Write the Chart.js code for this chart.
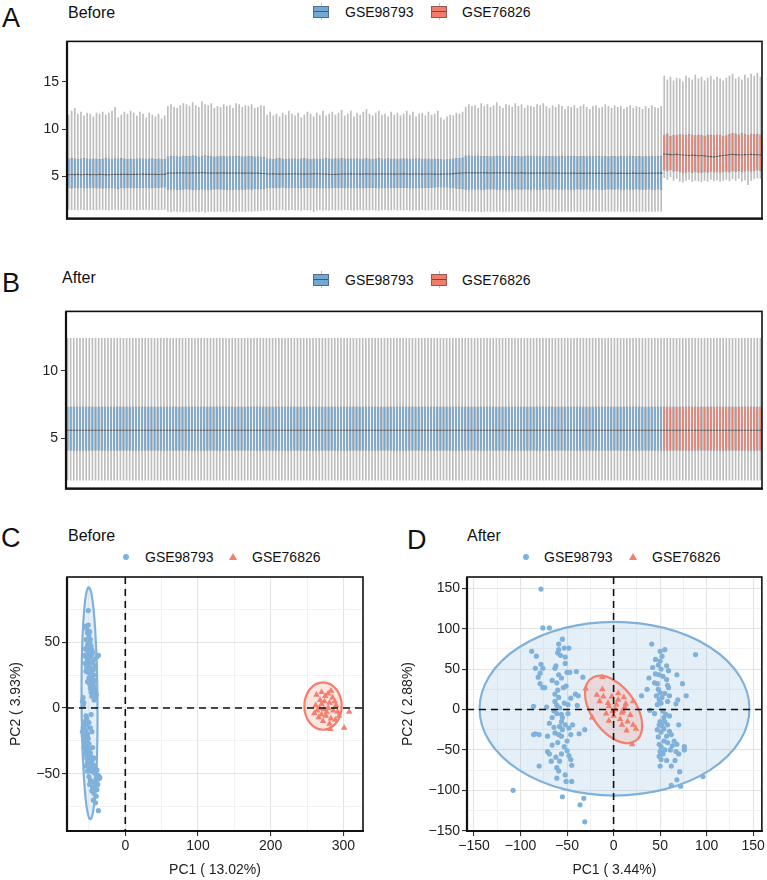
<!DOCTYPE html>
<html>
<head>
<meta charset="utf-8">
<script src="https://cdn.jsdelivr.net/npm/chart.js@4.4.0/dist/chart.umd.min.js"></script>
<style>
  body { margin: 0; background: #fff; width: 767px; height: 880px; position: relative; overflow: hidden;
         font-family: "Liberation Sans", Arial, sans-serif; color: #111; }
  .abs { position: absolute; white-space: nowrap; }
  .letter { font-size: 27px; line-height: 27px; }
  .title { font-size: 16px; line-height: 16px; }
  .leg { font-size: 14px; line-height: 14px; }
  canvas { position: absolute; }
  .bkey { width: 16px; height: 17px; }
  .bkey i { position: absolute; display: block; }
  .bkey .wh { left: 7.5px; top: 0; width: 1px; height: 17px; background: #c0c0c0; }
  .bkey .bx { left: 0; top: 3px; width: 14px; height: 10px; border: 1px solid rgba(70,70,70,0.6); }
  .bkey .md { left: 1px; top: 8px; width: 14px; height: 1px; background: #555; }
  .dot { width: 6px; height: 6px; border-radius: 50%; background: #7FB1DA; }
  .tri { width: 0; height: 0; border-left: 4px solid transparent; border-right: 4px solid transparent; border-bottom: 7px solid #F37F6E; }
</style>
</head>
<body>

<div class="abs letter" style="left:2px;top:5px">A</div>
<div class="abs title" style="left:68px;top:5px">Before</div>
<div class="abs bkey" style="left:313px;top:3px"><i class="wh"></i><i class="bx" style="background:#72A8D4"></i><i class="md"></i></div>
<div class="abs leg" style="left:345px;top:5px">GSE98793</div>
<div class="abs bkey" style="left:431px;top:3px"><i class="wh"></i><i class="bx" style="background:#F27C6A"></i><i class="md"></i></div>
<div class="abs leg" style="left:462px;top:5px">GSE76826</div>
<canvas id="boxBefore" width="767" height="200" style="left:0;top:30px"></canvas>

<div class="abs letter" style="left:2px;top:270px">B</div>
<div class="abs title" style="left:62px;top:270px">After</div>
<div class="abs bkey" style="left:313px;top:271px"><i class="wh"></i><i class="bx" style="background:#72A8D4"></i><i class="md"></i></div>
<div class="abs leg" style="left:345px;top:273px">GSE98793</div>
<div class="abs bkey" style="left:431px;top:271px"><i class="wh"></i><i class="bx" style="background:#F27C6A"></i><i class="md"></i></div>
<div class="abs leg" style="left:462px;top:273px">GSE76826</div>
<canvas id="boxAfter" width="767" height="200" style="left:0;top:300px"></canvas>

<div class="abs letter" style="left:1px;top:525px">C</div>
<div class="abs title" style="left:68px;top:528px">Before</div>
<div class="abs dot" style="left:123px;top:554px"></div>
<div class="abs leg" style="left:145px;top:550px">GSE98793</div>
<div class="abs tri" style="left:229px;top:553px"></div>
<div class="abs leg" style="left:252px;top:550px">GSE76826</div>
<canvas id="pcaBefore" width="380" height="320" style="left:0;top:560px"></canvas>

<div class="abs letter" style="left:407px;top:527px">D</div>
<div class="abs title" style="left:467px;top:528px">After</div>
<div class="abs dot" style="left:523px;top:554px"></div>
<div class="abs leg" style="left:544px;top:550px">GSE98793</div>
<div class="abs tri" style="left:629px;top:553px"></div>
<div class="abs leg" style="left:652px;top:550px">GSE76826</div>
<canvas id="pcaAfter" width="387" height="320" style="left:380px;top:560px"></canvas>

<script>
// ---- samples ----
const sampleGroups = ['GSE98793', 'GSE76826'];
const groupSizes = [192, 32];

// ---- A: expression boxplots before batch correction (one value per sample) ----
const hiBefore = [
  11.5, 11.9, 12.2, 11.6, 11.8, 11.4, 11.7, 11.6,
  11.3, 11.7, 11.6, 11.8, 11.5, 11.7, 11.9, 12.3,
  11.2, 11.5, 11.8, 11.6, 11.9, 11.7, 11.4, 11.8,
  11.6, 11.2, 11.7, 11.5, 11.3, 11.6, 11.1, 11.4,
  12.4, 12.6, 12.3, 12.2, 12.5, 12.7, 12.6, 12.4,
  12.8, 12.5, 12.3, 12.9, 12.6, 12.5, 12.7, 12.2,
  12.4, 12.3, 12.6, 12.4, 12.5, 12.2, 12.7, 12.6,
  12.3, 12.5, 12.4, 12.6, 12.2, 12.3, 12.5, 12.4,
  11.5, 11.8, 11.4, 11.6, 11.3, 11.7, 11.5, 11.9,
  11.6, 11.4, 11.7, 11.2, 11.5, 11.8, 11.6, 11.3,
  11.7, 11.5, 11.9, 11.4, 11.6, 11.8, 11.5, 11.7,
  12.0, 11.4, 11.6, 11.9, 11.3, 11.7, 11.5, 11.8,
  12.1, 11.6, 11.4, 11.7, 11.9, 11.5, 11.6, 11.3,
  11.8, 11.5, 11.7, 11.4, 11.6, 11.9, 11.5, 11.8,
  11.3, 11.6, 11.7, 11.4, 11.8, 11.5, 11.6, 11.9,
  11.2, 11.0, 11.3, 11.5, 11.4, 11.7, 11.6, 11.8,
  12.3, 12.6, 12.4, 12.5, 12.2, 12.7, 12.4, 12.6,
  12.3, 12.5, 12.8, 12.4, 12.2, 12.6, 12.5, 12.3,
  12.7, 12.4, 12.6, 12.2, 12.5, 12.4, 12.3, 12.6,
  12.5, 12.7, 12.4, 12.2, 12.5, 12.3, 12.6, 12.4,
  12.1, 12.4, 12.3, 12.5, 12.2, 12.4, 12.6, 12.3,
  12.1, 12.4, 12.5, 12.2, 12.3, 12.6, 12.4, 12.2,
  12.5, 12.3, 12.4, 12.1, 12.3, 12.5, 12.2, 12.4,
  12.3, 12.1, 12.4, 12.2, 12.5, 12.3, 12.2, 12.4,
  15.6, 15.2, 15.5, 15.1, 15.4, 15.3, 15.0, 15.6,
  15.4, 15.2, 15.7, 15.3, 15.5, 15.1, 15.4, 15.6,
  15.2, 15.5, 15.3, 15.1, 15.4, 15.6, 15.8, 15.3,
  15.5, 15.2, 15.7, 15.4, 15.8, 15.6, 15.9, 15.5
];
const q3Before = [
  6.90, 6.95, 6.90, 6.86, 6.92, 6.95, 6.90, 6.88,
  6.92, 6.90, 6.85, 6.90, 6.96, 6.90, 6.88, 6.93,
  6.90, 6.95, 6.91, 6.88, 6.90, 6.86, 6.92, 6.93,
  6.90, 6.88, 6.91, 6.93, 6.85, 6.90, 6.88, 6.86,
  7.12, 7.16, 7.20, 7.15, 7.12, 7.22, 7.16, 7.20,
  7.26, 7.16, 7.12, 7.20, 7.24, 7.16, 7.20, 7.12,
  7.15, 7.20, 7.16, 7.12, 7.20, 7.15, 7.22, 7.16,
  7.12, 7.15, 7.20, 7.16, 7.12, 7.15, 7.10, 7.06,
  6.92, 6.90, 6.88, 6.93, 6.95, 6.90, 6.86, 6.92,
  6.90, 6.94, 6.88, 6.90, 6.95, 6.91, 6.88, 6.92,
  6.90, 6.86, 6.92, 6.95, 6.90, 6.88, 6.93, 6.90,
  6.95, 6.90, 6.87, 6.92, 6.90, 6.94, 6.88, 6.91,
  6.93, 6.90, 6.86, 6.92, 6.95, 6.90, 6.88, 6.93,
  6.90, 6.92, 6.88, 6.90, 6.94, 6.90, 6.87, 6.92,
  6.90, 6.93, 6.88, 6.90, 6.92, 6.88, 6.90, 6.85,
  6.82, 6.80, 6.84, 6.88, 6.90, 6.95, 7.00, 7.05,
  7.22, 7.26, 7.20, 7.18, 7.22, 7.20, 7.16, 7.20,
  7.15, 7.18, 7.22, 7.16, 7.20, 7.15, 7.18, 7.20,
  7.16, 7.20, 7.15, 7.18, 7.22, 7.16, 7.15, 7.20,
  7.18, 7.15, 7.20, 7.16, 7.18, 7.15, 7.20, 7.16,
  7.15, 7.18, 7.16, 7.20, 7.15, 7.18, 7.16, 7.15,
  7.18, 7.15, 7.20, 7.16, 7.15, 7.18, 7.15, 7.16,
  7.18, 7.15, 7.16, 7.20, 7.15, 7.16, 7.18, 7.15,
  7.16, 7.15, 7.18, 7.15, 7.16, 7.15, 7.18, 7.16,
  9.45, 9.55, 9.30, 9.40, 9.35, 9.50, 9.45, 9.40,
  9.50, 9.45, 9.35, 9.45, 9.40, 9.30, 9.45, 9.40,
  9.35, 9.45, 9.40, 9.30, 9.35, 9.50, 9.60, 9.55,
  9.45, 9.60, 9.50, 9.40, 9.55, 9.50, 9.55, 9.45
];
const medBefore = [
  5.20, 5.22, 5.21, 5.23, 5.20, 5.22, 5.24, 5.21,
  5.22, 5.20, 5.23, 5.22, 5.21, 5.20, 5.22, 5.24,
  5.22, 5.23, 5.25, 5.24, 5.22, 5.23, 5.24, 5.25,
  5.26, 5.24, 5.23, 5.25, 5.24, 5.22, 5.25, 5.24,
  5.36, 5.38, 5.37, 5.39, 5.38, 5.40, 5.38, 5.37,
  5.39, 5.38, 5.40, 5.42, 5.39, 5.38, 5.37, 5.38,
  5.37, 5.38, 5.39, 5.37, 5.36, 5.38, 5.37, 5.38,
  5.36, 5.37, 5.38, 5.36, 5.35, 5.36, 5.34, 5.33,
  5.28, 5.27, 5.29, 5.28, 5.26, 5.28, 5.27, 5.29,
  5.28, 5.30, 5.27, 5.28, 5.26, 5.27, 5.28, 5.29,
  5.30, 5.28, 5.27, 5.26, 5.25, 5.22, 5.23, 5.25,
  5.27, 5.28, 5.27, 5.29, 5.28, 5.27, 5.26, 5.28,
  5.29, 5.27, 5.28, 5.26, 5.27, 5.29, 5.28, 5.27,
  5.28, 5.26, 5.27, 5.28, 5.29, 5.27, 5.26, 5.28,
  5.27, 5.28, 5.26, 5.27, 5.28, 5.27, 5.26, 5.25,
  5.26, 5.27, 5.28, 5.29, 5.31, 5.34, 5.36, 5.38,
  5.40, 5.41, 5.40, 5.39, 5.40, 5.41, 5.39, 5.40,
  5.38, 5.40, 5.41, 5.39, 5.38, 5.40, 5.39, 5.38,
  5.37, 5.38, 5.39, 5.37, 5.38, 5.36, 5.37, 5.38,
  5.36, 5.37, 5.36, 5.38, 5.37, 5.36, 5.37, 5.35,
  5.36, 5.35, 5.37, 5.36, 5.35, 5.36, 5.34, 5.35,
  5.36, 5.35, 5.34, 5.36, 5.35, 5.34, 5.35, 5.36,
  5.35, 5.34, 5.36, 5.35, 5.34, 5.35, 5.36, 5.34,
  5.35, 5.36, 5.34, 5.35, 5.36, 5.35, 5.36, 5.37,
  7.38, 7.35, 7.32, 7.30, 7.34, 7.30, 7.28, 7.25,
  7.22, 7.26, 7.24, 7.20, 7.22, 7.18, 7.15, 7.10,
  7.08, 7.12, 7.18, 7.22, 7.26, 7.30, 7.34, 7.32,
  7.30, 7.28, 7.32, 7.30, 7.34, 7.32, 7.30, 7.28
];
const q1Before = [
  3.78, 3.72, 3.80, 3.75, 3.82, 3.74, 3.78, 3.76,
  3.80, 3.75, 3.78, 3.72, 3.79, 3.76, 3.80, 3.74,
  3.70, 3.78, 3.75, 3.80, 3.77, 3.74, 3.79, 3.76,
  3.80, 3.82, 3.78, 3.75, 3.80, 3.78, 3.82, 3.85,
  3.62, 3.60, 3.64, 3.58, 3.62, 3.60, 3.65, 3.62,
  3.58, 3.60, 3.62, 3.64, 3.60, 3.55, 3.62, 3.60,
  3.64, 3.60, 3.62, 3.58, 3.62, 3.60, 3.64, 3.62,
  3.60, 3.62, 3.64, 3.62, 3.66, 3.64, 3.68, 3.70,
  3.78, 3.76, 3.80, 3.75, 3.78, 3.82, 3.76, 3.78,
  3.80, 3.76, 3.78, 3.74, 3.80, 3.77, 3.79, 3.76,
  3.78, 3.80, 3.76, 3.78, 3.75, 3.79, 3.80, 3.76,
  3.78, 3.74, 3.80, 3.77, 3.76, 3.80, 3.78, 3.75,
  3.79, 3.76, 3.80, 3.78, 3.74, 3.78, 3.80, 3.76,
  3.78, 3.80, 3.76, 3.79, 3.77, 3.80, 3.78, 3.76,
  3.80, 3.78, 3.76, 3.79, 3.78, 3.80, 3.82, 3.84,
  3.85, 3.86, 3.84, 3.80, 3.76, 3.72, 3.68, 3.65,
  3.62, 3.60, 3.64, 3.61, 3.63, 3.60, 3.62, 3.64,
  3.61, 3.63, 3.60, 3.62, 3.64, 3.61, 3.62, 3.60,
  3.63, 3.61, 3.62, 3.64, 3.60, 3.62, 3.63, 3.61,
  3.62, 3.60, 3.63, 3.62, 3.61, 3.64, 3.62, 3.60,
  3.63, 3.61, 3.62, 3.60, 3.64, 3.62, 3.61, 3.63,
  3.60, 3.62, 3.64, 3.61, 3.62, 3.60, 3.63, 3.62,
  3.61, 3.63, 3.60, 3.62, 3.64, 3.61, 3.62, 3.63,
  3.60, 3.62, 3.61, 3.63, 3.62, 3.60, 3.64, 3.62,
  5.65, 5.55, 5.70, 5.50, 5.60, 5.45, 5.35, 5.40,
  5.50, 5.38, 5.45, 5.40, 5.35, 5.45, 5.40, 5.50,
  5.42, 5.48, 5.40, 5.45, 5.50, 5.42, 5.55, 5.48,
  5.60, 5.45, 5.55, 5.62, 5.50, 5.58, 5.65, 5.60
];
const loBefore = [
  1.55, 1.50, 1.52, 1.48, 1.55, 1.50, 1.45, 1.52,
  1.50, 1.48, 1.55, 1.50, 1.52, 1.46, 1.50, 1.54,
  1.48, 1.52, 1.50, 1.55, 1.48, 1.50, 1.45, 1.52,
  1.50, 1.54, 1.48, 1.50, 1.52, 1.48, 1.50, 1.55,
  1.35, 1.30, 1.38, 1.32, 1.35, 1.28, 1.34, 1.30,
  1.36, 1.32, 1.30, 1.35, 1.25, 1.32, 1.36, 1.30,
  1.34, 1.30, 1.35, 1.32, 1.38, 1.30, 1.34, 1.36,
  1.32, 1.30, 1.35, 1.33, 1.38, 1.35, 1.40, 1.42,
  1.48, 1.45, 1.50, 1.46, 1.48, 1.52, 1.44, 1.48,
  1.50, 1.46, 1.48, 1.42, 1.50, 1.46, 1.48, 1.30,
  1.46, 1.50, 1.45, 1.48, 1.44, 1.50, 1.46, 1.48,
  1.45, 1.50, 1.48, 1.46, 1.44, 1.48, 1.50, 1.46,
  1.48, 1.45, 1.50, 1.47, 1.44, 1.48, 1.50, 1.46,
  1.48, 1.50, 1.45, 1.48, 1.46, 1.50, 1.47, 1.45,
  1.48, 1.46, 1.50, 1.47, 1.48, 1.45, 1.50, 1.52,
  1.55, 1.52, 1.50, 1.46, 1.42, 1.40, 1.38, 1.36,
  1.35, 1.32, 1.36, 1.33, 1.35, 1.30, 1.34, 1.36,
  1.32, 1.35, 1.33, 1.36, 1.30, 1.34, 1.35, 1.32,
  1.36, 1.33, 1.35, 1.32, 1.34, 1.36, 1.30, 1.35,
  1.33, 1.36, 1.32, 1.35, 1.34, 1.30, 1.36, 1.33,
  1.35, 1.32, 1.34, 1.36, 1.33, 1.35, 1.30, 1.34,
  1.36, 1.32, 1.35, 1.33, 1.34, 1.36, 1.32, 1.35,
  1.33, 1.36, 1.34, 1.32, 1.35, 1.33, 1.36, 1.34,
  1.32, 1.35, 1.33, 1.36, 1.34, 1.32, 1.35, 1.34,
  4.90, 4.70, 5.00, 4.60, 4.80, 4.50, 4.40, 4.60,
  4.70, 4.50, 4.60, 4.55, 4.45, 4.60, 4.50, 4.70,
  4.55, 4.65, 4.50, 4.60, 4.70, 4.55, 4.75, 4.60,
  4.80, 4.50, 4.65, 4.15, 4.60, 4.75, 4.85, 4.80
];

// ---- B: after batch correction, every sample has the same quantiles (per group) ----
const hiAfter  = [12.4, 12.4];
const q3After  = [7.35, 7.35];
const medAfter = [5.60, 5.60];
const q1After  = [4.08, 4.08];
const loAfter  = [1.90, 1.90];

// ---- C / D: PCA scores [PC1, PC2] ----
const pcaBeforeBlue = [
  [-51,74],[-53,60],[-52,57],[-50,55],[-54,52],[-49,50],[-52,48],[-50,46],[-53,44],[-48,43],
  [-51,41],[-47,40],[-54,39],[-50,38],[-37,40],[-39,39],[-52,36],[-48,35],[-45,34],[-50,33],
  [-53,31],[-47,30],[-44,29],[-49,28],[-51,27],[-46,26],[-43,25],[-48,24],[-50,23],[-45,22],
  [-42,21],[-47,20],[-44,19],[-49,18],[-46,17],[-43,16],[-48,15],[-45,14],[-41,13],[-47,12],
  [-44,11],[-40,10],[-46,9],[-42,8],[-43,6],[-41,7],[-55,62],[-51,63],[-49,58],[-55,45],
  [-47,47],[-45,42],[-43,37],[-41,32],[-52,20],[-54,28],[-56,40],[-55,34],[-48,52],[-46,44],
  [-58,8],[-59,5],[-58,2],[-57,4],
  [-55,-10],[-57,-12],[-53,-13],[-58,-15],[-54,-17],[-56,-19],[-52,-20],[-59,-18],[-55,-22],[-51,-23],
  [-57,-25],[-53,-26],[-50,-27],[-56,-28],[-52,-30],[-49,-31],[-54,-32],[-51,-33],[-48,-34],[-55,-35],
  [-50,-36],[-47,-37],[-53,-38],[-49,-39],[-46,-40],[-52,-41],[-48,-42],[-45,-43],[-51,-44],[-47,-45],
  [-44,-46],[-50,-47],[-46,-48],[-43,-49],[-41,-50],[-38,-51],[-36,-52],[-40,-53],[-37,-54],[-35,-53],
  [-48,-55],[-44,-56],[-41,-57],[-38,-58],[-45,-60],[-42,-61],[-39,-62],[-46,-63],[-43,-65],[-40,-67],
  [-44,-70],[-41,-72],[-37,-78],[-56,-24],[-54,-44],[-52,-48],[-50,-52],[-49,-58],[-47,-5],[-53,-8],
  [-50,-11],[-48,-15],[-46,-18],[-54,-6],[-57,-30],[-58,-21],[-45,-30],[-43,-38],[-42,-44],[-39,-47]
];
const pcaBeforeRed = [
  [263,10],[270,12],[279,11],[285,8],[268,6],[274,5],[281,4],[290,2],[262,2],[267,0],
  [273,-1],[279,0],[286,-2],[292,-3],[308,-3],[260,-4],[270,-5],[276,-6],[283,-8],[289,-9],
  [272,-10],[281,-12],[282,-16],[301,-15],[266,-7],[275,9],[283,13],[270,3],[277,-3],[288,5],
  [264,-2],[294,-6]
];
const pcaAfterBlue = [
  [-78,149],[-76,101],[-69,101],[-55,87],[-59,81],[-59,74],[-53,76],[-48,76],[-88,72],[-83,66],
  [-78,56],[-84,51],[-76,51],[-62,54],[-63,51],[-52,57],[-50,46],[-47,46],[-59,43],[-56,39],
  [-40,47],[-33,40],[-79,32],[-76,27],[-74,27],[-61,33],[-51,29],[-54,27],[-63,19],[-59,15],
  [-41,19],[-38,17],[-53,8],[-49,6],[-86,4],[-72,3],[-61,5],[-58,2],[-39,5],[-64,-2],
  [-61,-5],[-56,-6],[-49,-5],[-69,-17],[-56,-15],[-52,-19],[-44,-19],[-55,-25],[-63,-29],[-59,-31],
  [-56,-33],[-50,-39],[-46,-31],[-84,-30],[-80,-31],[-37,-30],[-31,-25],[-71,-52],[-69,-55],[-50,-51],
  [-62,-59],[-67,-64],[-58,-64],[-48,-57],[-46,-62],[-45,-69],[-80,-70],[-61,-72],[-59,-76],[-61,-85],
  [-52,-81],[-51,-89],[-45,-89],[-108,-100],[-55,-108],[-32,-110],[-36,-118],[-31,-139],
  [-60,70],[-57,67],[-52,65],[-79,45],[-81,40],[-66,36],[-60,24],[-46,14],[-63,10],[-55,-10],
  [-66,-10],[-58,-21],[-60,-41],[-53,-46],[-66,-44],[-56,-55],[-71,-33],[-64,-22],[-48,-23],[-86,-31],
  [41,81],[50,72],[55,74],[88,68],[50,60],[48,55],[42,52],[57,54],[59,48],[51,50],
  [49,43],[53,41],[68,43],[38,39],[44,33],[47,32],[57,37],[59,27],[74,32],[30,17],
  [36,25],[48,25],[50,21],[46,17],[49,12],[51,8],[47,6],[78,17],[69,12],[67,7],
  [60,17],[39,-1],[44,-5],[53,-2],[56,-6],[54,-10],[50,-15],[58,-19],[49,-19],[54,-24],
  [51,-28],[60,-27],[62,-31],[70,-19],[48,-34],[54,-39],[58,-41],[49,-43],[51,-46],[65,-39],
  [68,-43],[61,-50],[67,-52],[76,-46],[76,-50],[50,-52],[49,-58],[51,-62],[57,-63],[66,-63],
  [62,-70],[50,-70],[71,-77],[68,-87],[62,-94],[72,-95],[96,-83],
  [45,62],[52,66],[58,30],[55,20],[52,15],[58,10],[55,-15],[52,-20],[57,-33],[53,-55],
  [63,-45],[70,-55],[55,-50],[47,-25],[60,-8],[45,44]
];
const pcaAfterRed = [
  [-12,40],[-30,26],[-12,25],[-2,16],[-11,16],[5,12],[11,15],[13,7],[21,10],[-5,4],
  [2,0],[-1,-2],[9,-4],[18,-7],[-23,-10],[-5,-14],[7,-12],[9,-19],[21,-19],[14,-26],
  [20,-43],[-6,8],[3,6],[10,-2],[-15,10],[0,-8],[12,3],[-8,-5],[5,20],[-18,18],
  [15,-15],[24,-24]
];

// confidence ellipses: centre, spread along PC1 / PC2, correlation
const ellBefore = [
  { cx: -49.2, cy: 3.6, sx: 11, sy: 88, rho: -0.1 },
  { cx: 272, cy: 1.5, sx: 25.7, sy: 18, rho: 0 }
];
const ellAfter = [
  { cx: 1, cy: 1, sx: 145, sy: 107.5, rho: 0 },
  { cx: 0, cy: 0, sx: 30.7, sy: 41.7, rho: -0.48 }
];

// ---- styles ----
const FONT = '"Liberation Sans", Arial, sans-serif';
const BLUE = '#72A8D4', RED = '#F27C6A';
const PT_BLUE = '#7FB1DA', PT_RED = '#F37F6E';
const groupColor = [BLUE, RED];

const sampleGroupIdx = [];
groupSizes.forEach((n, g) => { for (let i = 0; i < n; i++) sampleGroupIdx.push(g); });
const sampleLabels = sampleGroupIdx.map((g, i) => sampleGroups[g] + '_' + (i + 1));
const sampleFill = sampleGroupIdx.map(g => groupColor[g]);

const frame = {
  id: 'frame',
  afterDraw(chart) {
    const { ctx, chartArea: a } = chart;
    ctx.save();
    ctx.strokeStyle = '#111';
    ctx.lineWidth = 1.6;
    ctx.strokeRect(a.left, a.top, a.right - a.left, a.bottom - a.top);
    ctx.lineWidth = 2.2;
    ctx.beginPath();
    ctx.moveTo(a.left, a.top);
    ctx.lineTo(a.left, a.bottom);
    ctx.lineTo(a.right + 1, a.bottom);
    ctx.stroke();
    ctx.restore();
  }
};

function boxChart(id, st, yMin, yMax, medHalf, axisWidth, pad) {
  const ds = (extra) => Object.assign({ grouped: false, categoryPercentage: 1 }, extra);
  new Chart(document.getElementById(id), {
    type: 'bar',
    data: {
      labels: sampleLabels,
      datasets: [
        ds({ label: 'median', data: st.med.map(m => [m - medHalf, m + medHalf]),
             backgroundColor: '#555555', barPercentage: 0.8, order: 0 }),
        ds({ label: 'box', data: st.q1.map((v, i) => [v, st.q3[i]]),
             backgroundColor: sampleFill, borderColor: 'rgba(50,65,80,0.5)', borderWidth: 0.6,
             borderSkipped: false, barPercentage: 0.82, order: 1 }),
        ds({ label: 'whisker', data: st.lo.map((v, i) => [v, st.hi[i]]),
             backgroundColor: '#bdbdbd', barThickness: 1, order: 2 })
      ]
    },
    options: {
      responsive: false,
      animation: false,
      layout: { padding: pad },
      plugins: { legend: { display: false }, tooltip: { enabled: false } },
      scales: {
        x: { display: false, offset: true },
        y: {
          min: yMin, max: yMax,
          ticks: { stepSize: 5, includeBounds: false, color: '#222', font: { family: FONT, size: 14 }, padding: 3 },
          grid: { drawOnChartArea: false, tickLength: 5, color: '#333', lineWidth: 1 },
          border: { display: false },
          afterFit(s) { s.width = axisWidth; }
        }
      }
    },
    plugins: [frame]
  });
}

boxChart('boxBefore',
  { hi: hiBefore, q3: q3Before, med: medBefore, q1: q1Before, lo: loBefore },
  0.57, 19.26, 0.06, 67, { top: 10, right: 5, bottom: 9, left: 0 });

const perSample = arr => sampleGroupIdx.map(g => arr[g]);
boxChart('boxAfter',
  { hi: perSample(hiAfter), q3: perSample(q3After), med: perSample(medAfter), q1: perSample(q1After), lo: perSample(loAfter) },
  1.28, 14.4, 0.045, 66, { top: 11, right: 5, bottom: 8, left: 0 });

// ---- PCA panels ----
const ellipsePlugin = {
  id: 'ellipses',
  beforeDatasetsDraw(chart, args, opts) {
    const { ctx } = chart;
    const xs = chart.scales.x, ys = chart.scales.y;
    opts.items.forEach((e, k) => {
      const cx = xs.getPixelForValue(e.cx), cy = ys.getPixelForValue(e.cy);
      const kx = xs.getPixelForValue(e.cx + 1) - cx, ky = ys.getPixelForValue(e.cy + 1) - cy;
      const ux = e.sx * kx, uy = e.rho * e.sy * ky;
      const vx = 0, vy = e.sy * Math.sqrt(1 - e.rho * e.rho) * ky;
      ctx.save();
      ctx.beginPath();
      ctx.transform(ux, uy, vx, vy, cx, cy);
      ctx.arc(0, 0, 1, 0, Math.PI * 2);
      ctx.restore();
      ctx.save();
      ctx.fillStyle = k === 0 ? 'rgba(125,174,214,0.2)' : 'rgba(242,128,111,0.2)';
      ctx.fill();
      ctx.strokeStyle = k === 0 ? PT_BLUE : PT_RED;
      ctx.lineWidth = 2.2;
      ctx.stroke();
      ctx.restore();
    });
  }
};

const zeroLines = {
  id: 'zeroLines',
  afterDatasetsDraw(chart) {
    const { ctx, chartArea: a } = chart;
    const x0 = chart.scales.x.getPixelForValue(0), y0 = chart.scales.y.getPixelForValue(0);
    ctx.save();
    ctx.strokeStyle = '#111';
    ctx.lineWidth = 1.6;
    ctx.setLineDash([7, 5]);
    ctx.beginPath();
    ctx.moveTo(x0, a.top); ctx.lineTo(x0, a.bottom);
    ctx.moveTo(a.left, y0); ctx.lineTo(a.right, y0);
    ctx.stroke();
    ctx.restore();
  }
};

const fmt = v => (v < 0 ? '\u2212' + Math.abs(v) : String(v));
const isMajor = (v, m) => Math.abs(v / m - Math.round(v / m)) < 1e-6;

function axis(min, max, step, major, title, titlePad, fit) {
  return {
    type: 'linear', min, max,
    ticks: { stepSize: step, includeBounds: false, autoSkip: false, maxRotation: 0,
             color: '#222', font: { family: FONT, size: 14 }, padding: 2,
             callback: v => (isMajor(v, major) ? fmt(v) : '') },
    grid: {
      color: c => (c.tick && isMajor(c.tick.value, major) ? '#E4E4E4' : '#EFEFEF'),
      lineWidth: c => (c.tick && isMajor(c.tick.value, major) ? 1.1 : 0.8),
      tickColor: c => (c.tick && isMajor(c.tick.value, major) ? '#333' : 'rgba(0,0,0,0)'),
      tickLength: 5
    },
    border: { display: false },
    title: { display: true, text: title, color: '#222', font: { family: FONT, size: 14 }, padding: titlePad },
    afterFit: fit
  };
}

function pcaChart(id, blue, red, ells, cfg) {
  new Chart(document.getElementById(id), {
    type: 'scatter',
    data: {
      datasets: [
        { label: sampleGroups[0], data: blue.map(p => ({ x: p[0], y: p[1] })),
          pointStyle: 'circle', pointRadius: 2.6, backgroundColor: PT_BLUE, borderWidth: 0 },
        { label: sampleGroups[1], data: red.map(p => ({ x: p[0], y: p[1] })),
          pointStyle: 'triangle', pointRadius: 3.8, backgroundColor: PT_RED, borderWidth: 0 }
      ]
    },
    options: {
      responsive: false,
      animation: false,
      layout: { padding: cfg.pad },
      plugins: { legend: { display: false }, tooltip: { enabled: false }, ellipses: { items: ells } },
      scales: {
        x: axis(cfg.x[0], cfg.x[1], cfg.x[2], cfg.x[3], cfg.xTitle, { top: 0, bottom: 1.5 }, s => { s.height = 49; }),
        y: axis(cfg.y[0], cfg.y[1], cfg.y[2], cfg.y[3], cfg.yTitle, { top: cfg.yTitlePad, bottom: 0 }, s => { s.width = cfg.yWidth; })
      }
    },
    plugins: [ellipsePlugin, zeroLines, frame]
  });
}

pcaChart('pcaBefore', pcaBeforeBlue, pcaBeforeRed, ellBefore, {
  x: [-80.2, 327, 50, 100], y: [-93.4, 99.5, 25, 50],
  xTitle: 'PC1 ( 13.02%)', yTitle: 'PC2 ( 3.93%)',
  yWidth: 67, yTitlePad: 8, pad: { top: 17, right: 17, bottom: 0, left: 0 }
});
pcaChart('pcaAfter', pcaAfterBlue, pcaAfterRed, ellAfter, {
  x: [-157.5, 159.3, 25, 50], y: [-150.4, 164, 25, 50],
  xTitle: 'PC1 ( 3.44%)', yTitle: 'PC2 ( 2.88%)',
  yWidth: 87, yTitlePad: 19.5, pad: { top: 17, right: 4, bottom: 0, left: 0 }
});
</script>
</body>
</html>
